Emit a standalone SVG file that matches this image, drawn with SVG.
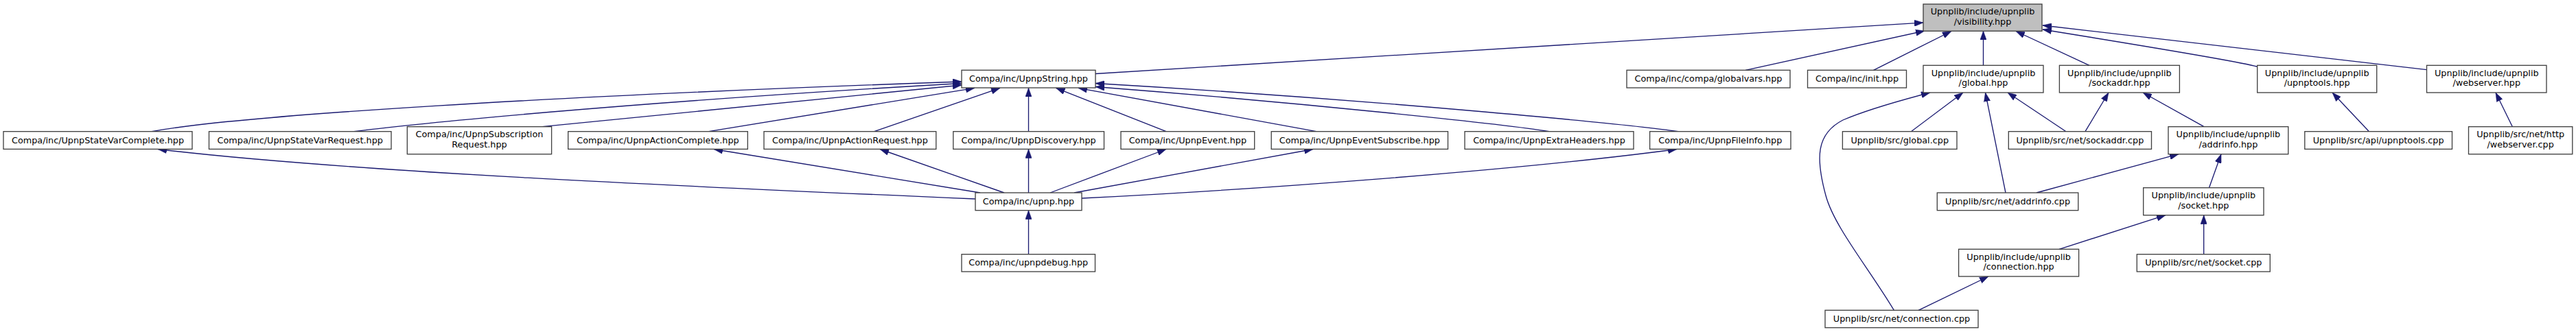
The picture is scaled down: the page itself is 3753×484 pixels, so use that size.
<svg xmlns="http://www.w3.org/2000/svg" width="3753" height="484" viewBox="0 0 3753 484">
<style>
.n rect{fill:#ffffff;stroke:#404040;stroke-width:1.33}
.root rect{fill:#bfbfbf}
text{font-family:"DejaVu Sans","Liberation Sans",sans-serif;font-size:12.8px;fill:#000000;text-anchor:middle}
#edges path{fill:none;stroke:#191970;stroke-width:1.33;marker-end:url(#ah)}
</style>
<defs>
<marker id="ah" viewBox="0 0 13 9.4" refX="13" refY="4.7" markerWidth="13" markerHeight="9.4" markerUnits="userSpaceOnUse" orient="auto">
<path d="M0,0 L13,4.7 L0,9.4 z" fill="#191970" stroke="#191970" stroke-width="0.5"/>
</marker>
</defs>
<rect width="3753" height="484" fill="#ffffff"/>
<g id="edges">
<path d="M1596,107.5 L2802,33"/>
<path d="M2543,102.3 L2804,45"/>
<path d="M2729.5,102.3 L2843,45.5"/>
<path d="M2889.5,95.3 L2889.5,45.3"/>
<path d="M3044,95.3 L2937,45.5"/>
<path d="M3288,97 C3268,91 3180,76 2976,43"/>
<path d="M3535.5,101.7 L2976,37"/>
<path d="M221,191.7 C350,168 800,140 1401,119"/>
<path d="M515.6,191.7 C600,181 900,150 1401,121.5"/>
<path d="M790,184.7 L1401,124"/>
<path d="M1032.6,191.7 L1420,128.3"/>
<path d="M1273.7,191.7 L1457,128.3"/>
<path d="M1498.5,191.7 L1498.5,128.3"/>
<path d="M1699,191.7 L1538.5,128.3"/>
<path d="M1917.8,191.7 L1571,128.3"/>
<path d="M2257,191.7 C2200,182 1900,150 1596,126.5"/>
<path d="M2445,191.7 C2380,182 2000,145 1596,121.5"/>
<path d="M1421,290 C1000,272 500,250 230,217.5"/>
<path d="M1428,281 L1040,217.5"/>
<path d="M1463,281 L1282,217.5"/>
<path d="M1498.5,281 L1498.5,217.5"/>
<path d="M1530,281 L1699,217.5"/>
<path d="M1565,281 L1913,217.5"/>
<path d="M1576,289 C1800,278 2200,250 2443,217.5"/>
<path d="M1498.5,370.7 L1498.5,306.7"/>
<path d="M2784.4,191.7 L2860,135"/>
<path d="M2922,281 L2892.5,135"/>
<path d="M3010,191.7 L2925,135"/>
<path d="M2759.4,452.3 C2722,390 2672,330 2660,285 C2645,230 2646,195 2685,175 C2720,160 2770,146 2812,135"/>
<path d="M2795,452.3 L2897,403"/>
<path d="M3038,191.7 L3072,135"/>
<path d="M3211,184.7 L3122,135"/>
<path d="M2967,281 L3174,224.7"/>
<path d="M3218.5,273.7 L3236,224.7"/>
<path d="M3000,363.3 L3155,313.7"/>
<path d="M3210.7,370.7 L3210.7,313.7"/>
<path d="M3451.5,191.7 L3398,135"/>
<path d="M3660.4,184.7 L3636,135"/>
</g>
<g id="n_visibility" class="n root"><rect x="2802" y="6" width="173" height="39.3"/><text x="2888.5" y="21.4">Upnplib/include/upnplib</text><text x="2888.5" y="36.1">/visibility.hpp</text></g>
<g id="n_upnpstring" class="n"><rect x="1401" y="102.3" width="195" height="25.7"/><text x="1498.5" y="119.1">Compa/inc/UpnpString.hpp</text></g>
<g id="n_globalvars" class="n"><rect x="2370" y="102.3" width="238" height="25.7"/><text x="2489" y="119.1">Compa/inc/compa/globalvars.hpp</text></g>
<g id="n_init" class="n"><rect x="2633.5" y="102.3" width="144" height="25.7"/><text x="2705.5" y="119.1">Compa/inc/init.hpp</text></g>
<g id="n_global_hpp" class="n"><rect x="2802" y="95.3" width="175" height="39.7"/><text x="2889.5" y="110.7">Upnplib/include/upnplib</text><text x="2889.5" y="125.4">/global.hpp</text></g>
<g id="n_sockaddr_hpp" class="n"><rect x="3000.4" y="95.3" width="175" height="39.7"/><text x="3087.9" y="110.7">Upnplib/include/upnplib</text><text x="3087.9" y="125.4">/sockaddr.hpp</text></g>
<g id="n_upnptools_hpp" class="n"><rect x="3288.7" y="95.3" width="174" height="39.7"/><text x="3375.7" y="110.7">Upnplib/include/upnplib</text><text x="3375.7" y="125.4">/upnptools.hpp</text></g>
<g id="n_webserver_hpp" class="n"><rect x="3535.5" y="95.3" width="174.5" height="39.7"/><text x="3622.75" y="110.7">Upnplib/include/upnplib</text><text x="3622.75" y="125.4">/webserver.hpp</text></g>
<g id="n_statevarcomplete" class="n"><rect x="5" y="191.7" width="275" height="25.7"/><text x="142.5" y="208.5">Compa/inc/UpnpStateVarComplete.hpp</text></g>
<g id="n_statevarrequest" class="n"><rect x="304.5" y="191.7" width="265.5" height="25.7"/><text x="437.25" y="208.5">Compa/inc/UpnpStateVarRequest.hpp</text></g>
<g id="n_subscription" class="n"><rect x="593.3" y="184.7" width="210.3" height="40"/><text x="698.45" y="200.1">Compa/inc/UpnpSubscription</text><text x="698.45" y="214.8">Request.hpp</text></g>
<g id="n_actioncomplete" class="n"><rect x="827.7" y="191.7" width="261.6" height="25.7"/><text x="958.5" y="208.5">Compa/inc/UpnpActionComplete.hpp</text></g>
<g id="n_actionrequest" class="n"><rect x="1113" y="191.7" width="250.8" height="25.7"/><text x="1238.4" y="208.5">Compa/inc/UpnpActionRequest.hpp</text></g>
<g id="n_discovery" class="n"><rect x="1388.8" y="191.7" width="219.7" height="25.7"/><text x="1498.65" y="208.5">Compa/inc/UpnpDiscovery.hpp</text></g>
<g id="n_event" class="n"><rect x="1633" y="191.7" width="194.7" height="25.7"/><text x="1730.35" y="208.5">Compa/inc/UpnpEvent.hpp</text></g>
<g id="n_eventsubscribe" class="n"><rect x="1852.2" y="191.7" width="257.3" height="25.7"/><text x="1980.85" y="208.5">Compa/inc/UpnpEventSubscribe.hpp</text></g>
<g id="n_extraheaders" class="n"><rect x="2134" y="191.7" width="246" height="25.7"/><text x="2257" y="208.5">Compa/inc/UpnpExtraHeaders.hpp</text></g>
<g id="n_fileinfo" class="n"><rect x="2403.6" y="191.7" width="205.4" height="25.7"/><text x="2506.3" y="208.5">Compa/inc/UpnpFileInfo.hpp</text></g>
<g id="n_global_cpp" class="n"><rect x="2684.4" y="191.7" width="166.6" height="25.7"/><text x="2767.7" y="208.5">Upnplib/src/global.cpp</text></g>
<g id="n_sockaddr_cpp" class="n"><rect x="2926.3" y="191.7" width="208.2" height="25.7"/><text x="3030.4" y="208.5">Upnplib/src/net/sockaddr.cpp</text></g>
<g id="n_addrinfo_hpp" class="n"><rect x="3159" y="184.7" width="174.8" height="40"/><text x="3246.4" y="200.1">Upnplib/include/upnplib</text><text x="3246.4" y="214.8">/addrinfo.hpp</text></g>
<g id="n_upnptools_cpp" class="n"><rect x="3357.8" y="191.7" width="214.7" height="25.7"/><text x="3465.15" y="208.5">Upnplib/src/api/upnptools.cpp</text></g>
<g id="n_webserver_cpp" class="n"><rect x="3596.5" y="184.7" width="151.3" height="40"/><text x="3672.15" y="200.1">Upnplib/src/net/http</text><text x="3672.15" y="214.8">/webserver.cpp</text></g>
<g id="n_upnp" class="n"><rect x="1421" y="281" width="155" height="25.7"/><text x="1498.5" y="297.8">Compa/inc/upnp.hpp</text></g>
<g id="n_addrinfo_cpp" class="n"><rect x="2822.3" y="281" width="205.5" height="25.7"/><text x="2925.05" y="297.8">Upnplib/src/net/addrinfo.cpp</text></g>
<g id="n_socket_hpp" class="n"><rect x="3122.7" y="273.7" width="175.3" height="40"/><text x="3210.35" y="289.1">Upnplib/include/upnplib</text><text x="3210.35" y="303.8">/socket.hpp</text></g>
<g id="n_upnpdebug" class="n"><rect x="1401" y="370.7" width="194.5" height="25.3"/><text x="1498.25" y="387.3">Compa/inc/upnpdebug.hpp</text></g>
<g id="n_connection_hpp" class="n"><rect x="2853.6" y="363.3" width="175" height="39.7"/><text x="2941.1" y="378.7">Upnplib/include/upnplib</text><text x="2941.1" y="393.4">/connection.hpp</text></g>
<g id="n_socket_cpp" class="n"><rect x="3113.3" y="370.7" width="194" height="25.3"/><text x="3210.3" y="387.3">Upnplib/src/net/socket.cpp</text></g>
<g id="n_connection_cpp" class="n"><rect x="2659" y="452.3" width="223" height="25.4"/><text x="2770.5" y="469">Upnplib/src/net/connection.cpp</text></g>
</svg>
